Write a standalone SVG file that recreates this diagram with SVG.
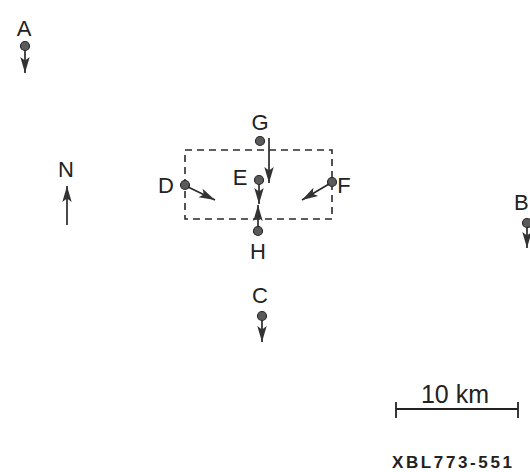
<svg xmlns="http://www.w3.org/2000/svg" width="530" height="472" viewBox="0 0 530 472">
<style>
.lbl{font-family:"Liberation Sans",Arial,sans-serif;font-size:22px;fill:#222;text-anchor:middle}
.dot{fill:#5a5a5a;stroke:#2a2a2a;stroke-width:1.2}
.arr{stroke:#2a2a2a;stroke-width:1.7;fill:none;marker-end:url(#ah)}
.box{fill:none;stroke:#2a2a2a;stroke-width:1.6;stroke-dasharray:7,5}
</style>
<defs>
<marker id="ah" markerWidth="17" markerHeight="11" refX="16" refY="5.5" orient="auto" markerUnits="userSpaceOnUse">
<path d="M0,0.8 L16,5.5 L0,10.2 L3.5,5.5 z" fill="#333"/>
</marker>
</defs>
<rect width="530" height="472" fill="#fff"/>
<g id="box"><rect class="box" x="185" y="150" width="147" height="69"/></g>
<g id="A"><text class="lbl" x="24" y="36">A</text><circle class="dot" cx="25" cy="46" r="4.5"/></g>
<g id="B"><text class="lbl" x="514" y="210" style="text-anchor:start">B</text><circle class="dot" cx="527" cy="223" r="4.5"/></g>
<g id="C"><text class="lbl" x="260" y="303">C</text><circle class="dot" cx="262" cy="316" r="4.5"/></g>
<g id="D"><text class="lbl" x="166" y="193">D</text><circle class="dot" cx="185" cy="185" r="4.5"/></g>
<g id="E"><text class="lbl" x="240" y="185">E</text><circle class="dot" cx="259" cy="180" r="4.5"/></g>
<g id="F"><text class="lbl" x="344" y="193">F</text><circle class="dot" cx="332" cy="182" r="4.5"/></g>
<g id="G"><text class="lbl" x="260" y="130">G</text><circle class="dot" cx="260" cy="141" r="4.5"/></g>
<g id="H"><text class="lbl" x="258" y="259">H</text><circle class="dot" cx="258" cy="231" r="4.5"/></g>
<g id="N"><text class="lbl" x="66" y="177">N</text></g>
<g id="connectors">
<line class="arr" x1="25" y1="50" x2="25" y2="73"/>
<line class="arr" x1="527" y1="227" x2="527" y2="248"/>
<line class="arr" x1="262" y1="320" x2="262" y2="342"/>
<line class="arr" x1="188" y1="187" x2="215" y2="200"/>
<line class="arr" x1="329" y1="184" x2="302" y2="200"/>
<line class="arr" x1="269" y1="138" x2="269" y2="183"/>
<line class="arr" x1="259" y1="184" x2="259" y2="204"/>
<line class="arr" x1="258" y1="227" x2="258" y2="205"/>
<line class="arr" x1="67" y1="225" x2="67" y2="186"/>
</g>
<g id="scale">
<text class="lbl" x="455" y="403" style="font-size:25px">10 km</text>
<line x1="396" y1="409" x2="518" y2="409" stroke="#222" stroke-width="1.8"/>
<line x1="396" y1="402" x2="396" y2="418" stroke="#222" stroke-width="1.8"/>
<line x1="518" y1="402" x2="518" y2="418" stroke="#222" stroke-width="1.8"/>
</g>
<g id="caption"><text x="452" y="468" font-family="Liberation Sans,Arial,sans-serif" font-weight="bold" font-size="17" fill="#222" text-anchor="middle" textLength="120">XBL773-551</text></g>
</svg>
